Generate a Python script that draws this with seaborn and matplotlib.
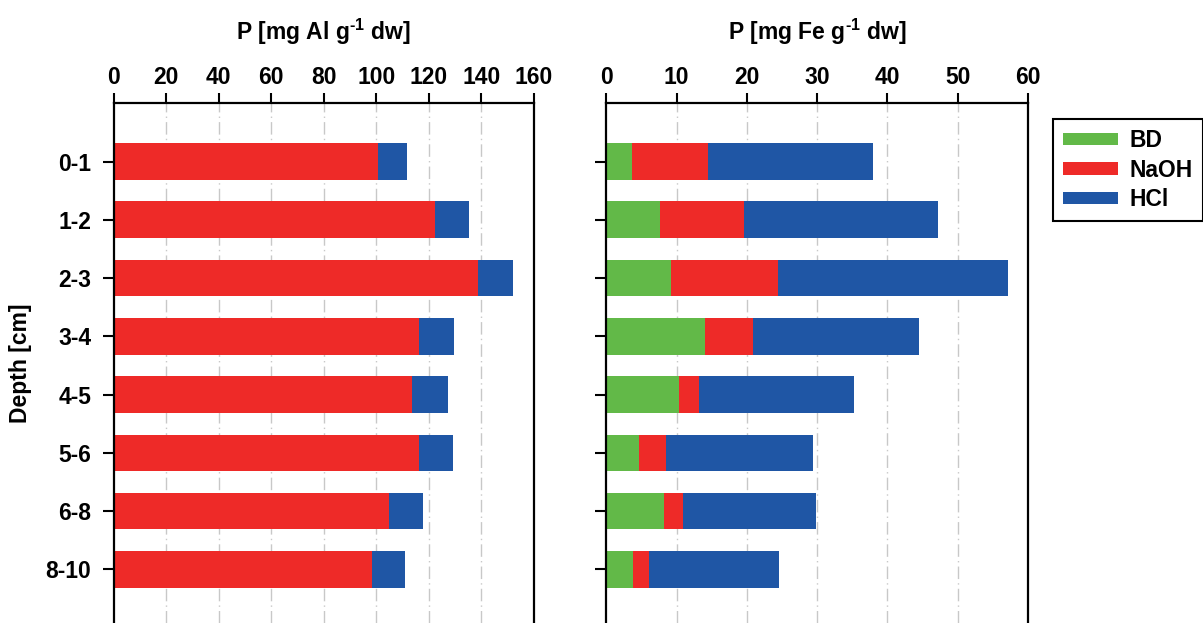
import matplotlib
matplotlib.use("Agg")
import matplotlib.pyplot as plt
from matplotlib.patches import Patch
import seaborn as sns
import pandas as pd
import numpy as np

depths = ["0-1", "1-2", "2-3", "3-4", "4-5", "5-6", "6-8", "8-10"]
al_naoh = [100.5, 122.3, 138.7, 116.4, 113.6, 116.4, 104.8, 98.4]
al_hcl = [11.3, 12.9, 13.3, 13.2, 13.7, 12.9, 12.9, 12.6]
fe_bd = [3.7, 7.6, 9.2, 14.1, 10.3, 4.7, 8.2, 3.8]
fe_naoh = [10.8, 12.0, 15.3, 6.8, 2.9, 3.8, 2.7, 2.3]
fe_hcl = [23.4, 27.6, 32.7, 23.6, 22.1, 20.9, 19.0, 18.5]
series_names = ["BD", "NaOH", "HCl"]

GREEN = "#62b948"
RED = "#ee2a28"
BLUE = "#1f56a5"

sns.set_theme(style="white")
plt.rcParams["font.family"] = ["Liberation Sans", "DejaVu Sans"]
plt.rcParams["font.weight"] = "bold"
plt.rcParams["text.color"] = "black"
plt.rcParams["axes.labelcolor"] = "black"
plt.rcParams["xtick.color"] = "black"
plt.rcParams["ytick.color"] = "black"
plt.rcParams["mathtext.fontset"] = "custom"
plt.rcParams["mathtext.bf"] = "Liberation Sans:bold"
plt.rcParams["mathtext.rm"] = "Liberation Sans:bold"
plt.rcParams["mathtext.default"] = "bf"

FS = 16.5

fig = plt.figure(figsize=(12.03, 6.23), dpi=100)
H = 623.0
W = 1203.0
top = 1 - 102.7 / H
axL = fig.add_axes([113.5 / W, 0.0, (534 - 113.5) / W, top])
axR = fig.add_axes([606.4 / W, 0.0, (1027.8 - 606.4) / W, top])

al = pd.DataFrame({"depth": depths, "NaOH": al_naoh, "HCl": al_hcl})
al["c_hcl"] = al["NaOH"] + al["HCl"]
al["c_naoh"] = al["NaOH"]

fe = pd.DataFrame({"depth": depths, "BD": fe_bd, "NaOH": fe_naoh, "HCl": fe_hcl})
fe["c_hcl"] = fe["BD"] + fe["NaOH"] + fe["HCl"]
fe["c_naoh"] = fe["BD"] + fe["NaOH"]
fe["c_bd"] = fe["BD"]

bw = 0.63
sns.barplot(data=al, y="depth", x="c_hcl", color=BLUE, width=bw, ax=axL,
            orient="h", saturation=1, linewidth=0)
sns.barplot(data=al, y="depth", x="c_naoh", color=RED, width=bw, ax=axL,
            orient="h", saturation=1, linewidth=0)

sns.barplot(data=fe, y="depth", x="c_hcl", color=BLUE, width=bw, ax=axR,
            orient="h", saturation=1, linewidth=0)
sns.barplot(data=fe, y="depth", x="c_naoh", color=RED, width=bw, ax=axR,
            orient="h", saturation=1, linewidth=0)
sns.barplot(data=fe, y="depth", x="c_bd", color=GREEN, width=bw, ax=axR,
            orient="h", saturation=1, linewidth=0)

for ax, xmax, step, lab in [(axL, 160, 20, r"P [mg Al g$^{\text{-}1}$ dw]"),
                            (axR, 60, 10, r"P [mg Fe g$^{\text{-}1}$ dw]")]:
    ax.set_xlim(0, xmax)
    ax.set_ylim(7.92, -1.01)
    ticks = np.arange(0, xmax + 1, step)
    ax.set_xticks(ticks)
    ax.xaxis.tick_top()
    ax.xaxis.set_label_position("top")
    ax.set_xlabel(lab, fontsize=FS, fontweight="bold", labelpad=19, color="black")
    ax.set_ylabel("")
    for t in ticks[1:-1]:
        ax.axvline(t, color="#c8c8c8", lw=1.0, ls=(0, (9, 3, 1, 3)), zorder=0)
    ax.set_axisbelow(True)
    for s in ["top", "left", "right"]:
        ax.spines[s].set_visible(True)
        ax.spines[s].set_color("black")
        ax.spines[s].set_linewidth(1.6)
    ax.spines["bottom"].set_visible(False)
    ax.tick_params(axis="x", which="major", top=True, bottom=False, direction="out",
                   length=7, width=1.5, color="black", labelsize=FS, pad=3,
                   labelcolor="black")
    ax.tick_params(axis="y", which="major", left=True, direction="out",
                   length=8, width=1.5, color="black", labelsize=FS, pad=8,
                   labelcolor="black")
    for t in ax.get_xticklabels() + ax.get_yticklabels():
        t.set_fontweight("bold")

axR.set_yticklabels([])
axL.set_ylabel("Depth [cm]", fontsize=FS, fontweight="bold", labelpad=10, color="black")

handles = [Patch(facecolor=GREEN, edgecolor="none", label="BD"),
           Patch(facecolor=RED, edgecolor="none", label="NaOH"),
           Patch(facecolor=BLUE, edgecolor="none", label="HCl")]
leg = fig.legend(handles=handles, loc="upper left",
                 bbox_to_anchor=(1053 / W, 1 - 119 / H), bbox_transform=fig.transFigure,
                 frameon=True, fancybox=False, framealpha=1, edgecolor="black",
                 fontsize=FS, handlelength=2.4, handleheight=0.45,
                 labelspacing=0.28, borderpad=0.45, handletextpad=0.5,
                 borderaxespad=0)
leg.get_frame().set_linewidth(1.5)
for t in leg.get_texts():
    t.set_fontweight("bold")
    t.set_color("black")

fig.savefig("out.png", dpi=100)
